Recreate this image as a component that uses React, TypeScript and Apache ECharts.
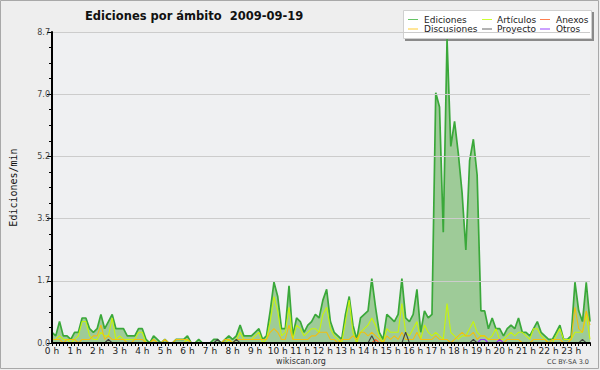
import React, { useEffect, useRef } from "react";
import * as echarts from "echarts";

const hourLabels = [
  "0 h", "1 h", "2 h", "3 h", "4 h", "5 h", "6 h", "7 h", "8 h", "9 h", "10 h", "11 h",
  "12 h", "13 h", "14 h", "15 h", "16 h", "17 h", "18 h", "19 h", "20 h", "21 h", "22 h", "23 h",
];

// Ediciones por minuto, media de cada 10 minutos (144 puntos)
const ediciones = [
  0.3, 0.2, 0.6, 0.2, 0.2, 0.1, 0.3, 0.3, 0.7, 0.7,
  0.4, 0.3, 0.4, 0.8, 0.4, 0.6, 0.8, 0.4, 0.4, 0.4,
  0.2, 0.2, 0.2, 0.4, 0.4, 0.1, 0.0, 0.2, 0.1, 0.0,
  0.1, 0.0, 0.0, 0.1, 0.1, 0.1, 0.2, 0.0, 0.0, 0.1,
  0.0, 0.0, 0.0, 0.1, 0.1, 0.0, 0.1, 0.2, 0.1, 0.2,
  0.5, 0.2, 0.2, 0.2, 0.3, 0.4, 0.1, 0.2, 0.9, 1.7,
  1.3, 0.4, 0.4, 1.6, 0.2, 0.7, 0.6, 0.3, 0.5, 0.6,
  0.8, 0.7, 1.2, 1.5, 0.6, 0.3, 0.2, 0.1, 0.8, 1.3,
  0.5, 0.1, 0.7, 0.8, 0.9, 1.8, 1.0, 0.3, 0.1, 0.8,
  0.7, 0.6, 0.8, 1.8, 0.7, 0.6, 0.8, 1.5, 0.3, 0.9,
  0.7, 0.8, 7.0, 6.6, 3.1, 8.5, 5.5, 6.2, 5.3, 4.2,
  2.6, 5.1, 5.7, 4.7, 0.9, 0.9, 0.4, 0.7, 0.4, 0.4,
  0.2, 0.4, 0.5, 0.4, 0.7, 0.3, 0.3, 0.2, 0.4, 0.6,
  0.3, 0.2, 0.1, 0.1, 0.3, 0.5, 0.1, 0.1, 0.2, 1.7,
  0.9, 0.6, 1.7, 0.6,
];

const articulos = [
  0.1, 0.1, 0.2, 0.1, 0.1, 0.0, 0.1, 0.2, 0.6, 0.6,
  0.2, 0.1, 0.1, 0.3, 0.2, 0.2, 0.7, 0.1, 0.2, 0.1,
  0.1, 0.1, 0.1, 0.3, 0.3, 0.0, 0.0, 0.1, 0.0, 0.0,
  0.0, 0.0, 0.0, 0.0, 0.0, 0.0, 0.1, 0.0, 0.0, 0.0,
  0.0, 0.0, 0.0, 0.0, 0.0, 0.0, 0.0, 0.1, 0.0, 0.1,
  0.3, 0.1, 0.1, 0.1, 0.2, 0.3, 0.0, 0.1, 0.6, 1.3,
  0.9, 0.2, 0.3, 1.0, 0.1, 0.5, 0.4, 0.2, 0.3, 0.4,
  0.4, 0.3, 0.8, 1.0, 0.4, 0.2, 0.1, 0.0, 0.6, 1.2,
  0.3, 0.0, 0.3, 0.4, 0.5, 0.7, 0.5, 0.2, 0.0, 0.4,
  0.3, 0.3, 0.3, 1.1, 0.3, 0.2, 0.4, 0.6, 0.1, 0.5,
  0.3, 0.2, 0.3, 0.2, 0.1, 1.1, 0.3, 0.2, 0.1, 0.2,
  0.2, 0.4, 0.6, 0.3, 0.2, 0.2, 0.1, 0.2, 0.4, 0.1,
  0.1, 0.2, 0.3, 0.2, 0.3, 0.3, 0.2, 0.1, 0.4, 0.4,
  0.2, 0.1, 0.0, 0.0, 0.2, 0.4, 0.1, 0.1, 0.1, 0.3,
  0.3, 0.3, 0.8, 0.1,
];

const discusiones = [
  0.1, 0.1, 0.1, 0.0, 0.1, 0.1, 0.1, 0.0, 0.1, 0.1,
  0.1, 0.2, 0.2, 0.5, 0.1, 0.2, 0.1, 0.1, 0.1, 0.1,
  0.0, 0.0, 0.1, 0.1, 0.1, 0.0, 0.0, 0.1, 0.0, 0.0,
  0.1, 0.0, 0.0, 0.1, 0.1, 0.1, 0.1, 0.0, 0.0, 0.0,
  0.0, 0.0, 0.0, 0.0, 0.0, 0.0, 0.1, 0.1, 0.0, 0.1,
  0.1, 0.1, 0.1, 0.1, 0.1, 0.1, 0.1, 0.1, 0.3, 0.4,
  0.3, 0.1, 0.1, 0.5, 0.1, 0.1, 0.1, 0.1, 0.1, 0.2,
  0.2, 0.3, 0.3, 0.3, 0.1, 0.1, 0.0, 0.1, 0.1, 0.1,
  0.2, 0.1, 0.3, 0.3, 0.2, 0.3, 0.2, 0.1, 0.0, 0.2,
  0.1, 0.2, 0.1, 0.3, 0.1, 0.1, 0.1, 0.3, 0.1, 0.1,
  0.1, 0.1, 0.2, 0.1, 0.1, 0.1, 0.0, 0.1, 0.2, 0.3,
  0.2, 0.2, 0.3, 0.1, 0.2, 0.2, 0.1, 0.1, 0.1, 0.1,
  0.0, 0.1, 0.1, 0.1, 0.1, 0.0, 0.0, 0.0, 0.1, 0.1,
  0.1, 0.1, 0.0, 0.1, 0.1, 0.1, 0.0, 0.0, 0.1, 1.0,
  0.4, 0.3, 0.9, 0.5,
];

const anexos = [
  0, 0, 0, 0, 0, 0, 0, 0, 0, 0,
  0, 0, 0, 0, 0, 0, 0, 0, 0, 0,
  0, 0, 0, 0, 0, 0, 0, 0, 0, 0,
  0, 0, 0, 0, 0, 0, 0, 0, 0, 0,
  0, 0, 0, 0, 0, 0, 0, 0, 0, 0,
  0, 0, 0, 0, 0, 0, 0, 0, 0, 0,
  0, 0, 0, 0, 0, 0, 0, 0, 0, 0,
  0, 0, 0, 0, 0, 0, 0, 0, 0, 0,
  0, 0, 0, 0, 0, 0, 0.1, 0, 0, 0,
  0, 0, 0, 0, 0, 0, 0, 0, 0, 0,
  0, 0, 0, 0, 0, 0, 0, 0, 0, 0,
  0, 0, 0, 0, 0, 0, 0, 0, 0, 0,
  0, 0, 0, 0, 0, 0, 0, 0, 0, 0,
  0, 0, 0, 0, 0, 0, 0, 0, 0, 0,
  0, 0, 0, 0,
];

const proyecto = [
  0, 0, 0, 0, 0, 0, 0, 0, 0, 0,
  0, 0, 0, 0, 0, 0.1, 0, 0, 0, 0,
  0, 0, 0, 0, 0, 0, 0, 0, 0, 0,
  0, 0, 0, 0, 0, 0, 0, 0, 0, 0,
  0, 0, 0, 0, 0.1, 0, 0, 0, 0, 0.1,
  0, 0, 0, 0, 0, 0, 0, 0, 0, 0,
  0, 0, 0, 0, 0, 0, 0, 0, 0, 0,
  0, 0, 0, 0, 0, 0, 0, 0, 0, 0,
  0, 0, 0, 0, 0, 0.2, 0, 0, 0, 0,
  0, 0, 0, 0, 0.3, 0, 0, 0, 0, 0,
  0, 0, 0, 0, 0, 0, 0, 0, 0, 0,
  0, 0, 0.1, 0, 0, 0, 0, 0, 0, 0,
  0, 0, 0, 0, 0, 0, 0, 0, 0, 0,
  0, 0, 0, 0, 0, 0, 0, 0, 0, 0,
  0, 0.1, 0, 0,
];

const otros = [
  0, 0, 0, 0, 0, 0, 0, 0, 0, 0,
  0, 0, 0, 0, 0, 0, 0, 0, 0, 0,
  0, 0, 0, 0, 0, 0, 0, 0, 0, 0,
  0, 0, 0, 0, 0, 0, 0, 0, 0, 0,
  0, 0, 0, 0, 0, 0, 0, 0, 0, 0,
  0, 0, 0, 0, 0, 0, 0, 0, 0, 0,
  0, 0, 0, 0, 0, 0, 0, 0, 0, 0,
  0, 0, 0, 0, 0, 0, 0, 0, 0, 0,
  0, 0, 0, 0, 0, 0, 0, 0, 0, 0,
  0, 0, 0, 0, 0, 0, 0, 0, 0, 0,
  0, 0, 0, 0, 0, 0, 0, 0, 0, 0,
  0, 0, 0, 0, 0.1, 0.1, 0, 0, 0, 0.1,
  0, 0, 0, 0, 0, 0, 0, 0, 0, 0,
  0, 0, 0, 0, 0, 0, 0, 0, 0, 0,
  0, 0, 0, 0,
];

const seriesNames = ["Ediciones", "Artículos", "Anexos", "Discusiones", "Proyecto", "Otros"];
const seriesColors = ["#3aa83a", "#c8f50a", "#ff6a33", "#f2bf10", "#444444", "#9933ff"];
const legendColors = ["#66c466", "#ccff33", "#ff7f50", "#ffcc33", "#666666", "#9944ff"];

const yMax = 8.7;
const yStep = 1.74;

export default function App() {
  const ref = useRef<HTMLDivElement>(null);

  useEffect(() => {
    document.body.style.margin = "0";
    if (!ref.current) return;
    const chart = echarts.init(ref.current, null, { renderer: "svg" });
    const slots = ediciones.map((_, i) => String(i));
    const colorOf = (n: string) => seriesColors[seriesNames.indexOf(n)];
    const legendColorOf = (n: string) => legendColors[seriesNames.indexOf(n)];

    const legendLayout = [
      { name: "Ediciones", x: 408, tx: 424, y: 19.5 },
      { name: "Artículos", x: 482, tx: 497, y: 19.5 },
      { name: "Anexos", x: 540, tx: 556, y: 19.5 },
      { name: "Discusiones", x: 408, tx: 424, y: 29 },
      { name: "Proyecto", x: 482, tx: 497, y: 29 },
      { name: "Otros", x: 540, tx: 556, y: 29 },
    ];

    const legendEls: any[] = [
      { type: "rect", shape: { x: 405, y: 12, width: 189, height: 29 }, style: { fill: "#8a8a8a" }, silent: true },
      { type: "rect", shape: { x: 403.5, y: 10.5, width: 188, height: 28 }, style: { fill: "#ffffff", stroke: "#d0d0d0", lineWidth: 1 }, silent: true },
    ];
    legendLayout.forEach((l) => {
      legendEls.push({
        type: "line",
        shape: { x1: l.x, y1: l.y, x2: l.x + 10, y2: l.y },
        style: { stroke: legendColorOf(l.name), lineWidth: 1 },
        silent: true,
      });
      legendEls.push({
        type: "text",
        x: l.tx,
        y: l.y,
        style: {
          text: l.name,
          font: "9px 'DejaVu Sans'",
          fill: "#222222",
          textVerticalAlign: "middle",
          verticalAlign: "middle",
        },
        silent: true,
      });
    });

    const lineSeries = (name: string, data: number[]) => ({
      name,
      type: "line",
      data,
      symbol: "none",
      lineStyle: { color: colorOf(name), width: 1.1 },
      itemStyle: { color: colorOf(name) },
      z: 3,
    });

    chart.setOption({
      animation: false,
      backgroundColor: "#eeeeee",
      title: {
        text: "Ediciones por ámbito  2009-09-19",
        left: 85,
        top: 10,
        padding: 0,
        textStyle: {
          fontFamily: "'DejaVu Sans'",
          fontWeight: "bold",
          fontSize: 11.5,
          color: "#111111",
        },
      },
      grid: {
        left: 46,
        right: 10,
        top: 32,
        bottom: 27,
        show: true,
        backgroundColor: "#eff0f2",
        borderWidth: 0,
      },
      xAxis: {
        type: "category",
        data: slots,
        boundaryGap: false,
        z: 6,
        axisLine: { lineStyle: { color: "#000000", width: 2 } },
        axisTick: { show: true, interval: 0, length: 3, lineStyle: { color: "#000000", width: 1 } },
        axisLabel: {
          interval: 5,
          margin: 3,
          fontFamily: "'DejaVu Sans'",
          fontSize: 9,
          color: "#222222",
          formatter: (_v: string, i: number) => hourLabels[i / 6] ?? "",
        },
        splitLine: { show: false },
      },
      yAxis: {
        type: "value",
        min: 0,
        max: yMax,
        interval: yStep,
        name: "Ediciones/min",
        nameLocation: "middle",
        nameGap: 34,
        nameRotate: 90,
        nameTextStyle: { fontFamily: "'DejaVu Sans Mono'", fontSize: 10, color: "#111111" },
        z: 6,
        axisLine: { show: true, lineStyle: { color: "#000000", width: 2 } },
        axisTick: { show: true, length: 5, lineStyle: { color: "#000000" } },
        minorTick: { show: true, splitNumber: 4, length: 3, lineStyle: { color: "#000000" } },
        axisLabel: {
          margin: 2,
          fontFamily: "'DejaVu Sans'",
          fontSize: 8,
          color: "#444444",
          formatter: (v: number) => v.toFixed(1),
        },
        splitLine: { show: true, lineStyle: { color: "#cccccc", width: 1 } },
      },
      graphic: [
        {
          type: "rect",
          shape: { x: 0.5, y: 0.5, width: 598, height: 368 },
          style: { fill: "none", stroke: "#a8a8a8", lineWidth: 1 },
          silent: true,
          z: -1,
        },
        ...legendEls,
        {
          type: "text",
          x: 301,
          y: 361,
          style: {
            text: "wikiscan.org",
            font: "8px 'DejaVu Sans'",
            fill: "#333333",
            textAlign: "center",
            align: "center",
            textVerticalAlign: "middle",
            verticalAlign: "middle",
          },
          silent: true,
        },
        {
          type: "text",
          x: 589,
          y: 362,
          style: {
            text: "CC BY-SA 3.0",
            font: "6.5px 'DejaVu Sans'",
            fill: "#444444",
            textAlign: "right",
            align: "right",
            textVerticalAlign: "middle",
            verticalAlign: "middle",
          },
          silent: true,
        },
      ],
      series: [
        {
          name: "Ediciones",
          type: "line",
          data: ediciones,
          symbol: "none",
          lineStyle: { color: colorOf("Ediciones"), width: 1.7 },
          itemStyle: { color: colorOf("Ediciones") },
          areaStyle: { color: "#9ecb98", opacity: 1 },
          z: 2,
        },
        lineSeries("Artículos", articulos),
        lineSeries("Discusiones", discusiones),
        lineSeries("Anexos", anexos),
        lineSeries("Proyecto", proyecto),
        lineSeries("Otros", otros),
      ],
    });

    return () => chart.dispose();
  }, []);

  return <div ref={ref} style={{ width: 600, height: 370 }} />;
}
